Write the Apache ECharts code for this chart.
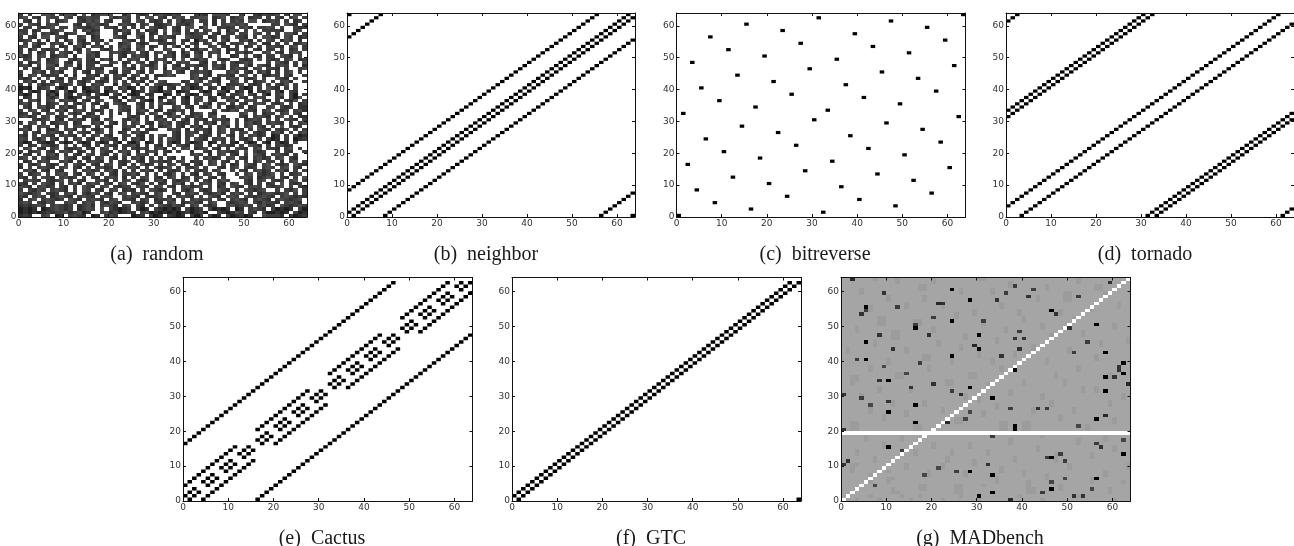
<!DOCTYPE html>
<html><head><meta charset="utf-8">
<style>html,body{margin:0;padding:0;background:#fff}#c{width:1294px;height:546px}</style>
<script src="https://cdn.jsdelivr.net/npm/echarts@6/dist/echarts.min.js"></script>
</head><body><div id="c"></div>
<script>
var captions=["(a)  random","(b)  neighbor","(c)  bitreverse","(d)  tornado","(e)  Cactus","(f)  GTC","(g)  MADbench"];
var tickValues=[0,10,20,30,40,50,60];
// random: rows from y=63 down to y=0; # = white, a-d = dark greys
var randomRows=[
"c#c##ddc #cddb#d# bcddd##b d#cbc#cd cbdc###c cb#dddc# #c##cbdc cd#c#dd#",
"cd#cb#dc c#dc#bcd cc##dbcd c#c#dd#c b#cdc#cc dd#bcd#b cd#bcc#c #cb#cd#c",
"#cb#c#d# bcd##cbd cd#cb##c c#dc#cbc #c#dbcc# cc#b#c#c dc#dd#bc dc#c#bc#",
"c#dcb#cd c###cb#c dcbc##cd cb#cd#bb cd#ccbd# #c#b#cdd cdc#####c c#dcb#c#",
"#cc#cbcd #cc#dccb cd#ccb#c #c#c#dcb c#cb#dd# bd##ccbc #cdb#ccd c#c##cbc",
"cc#bc##c cd##c#cd bc###cbd c#c#bcb# d#cb#c#c #cd#c#bd c#c#d#cc ccb##cd#",
"dc#c#cdb c#bcd##b cd###c#c b#cd#bc# c#dc#cbc dc#cb#cc #cc#dc#c #c#ddb#c",
"c#cb#dd# dcb##cd# bc###dcb ##db#c#c dcb##dcc c#bc#cc# dcb#c#dd bc#dc#bc",
"bcd#c#b# c#bd#cb# ccb#c##d cb#c#cdb c#d#cb#a dc#c#db# #cdb#c#d c#bdc#b#",
"#c#dbc#c dc#b#dbc #c#d##bc d#cbc##c cbc#c#db #cd#cb#c cd#cd#bb #c#c#bcd",
"cd#cb##d #bc#cdb# cdb#c#cd c#dc#bc# c#db#b#c ##cd#cb# c#bc#c#c dcb#cd#c",
"c#bd#cbc c#d#cb#d ##cbc#dc b#cd#c## cd##c#bb dc#dc#bc c#d#cb#c c#c#bc#c",
"c#c#bc#c #dcb#c#d cb##cdcb cd#cb#cd #cb#bd#c b#cdc#b# cdbc##cd #cb#cdc#",
"dbc#cd#b cdc#b##c db##c#cb #cdcb#c# cdb#cb#d c#c#d##b c#d#cb#c c#dcb#c#",
"#cd#c#bc d##cbd#c b#cdb#c# cdc#b#cd c#c#d#cb dc##cbc# #cbc#d#c bc#cd#bc",
"c#bcd#cc d#cb#c#c cb##cd#b c#dc#bc# db#cdc## cb#c#d#c bcdc###c #dcb#c#d",
"cdb#c#dd b#cd#b#c c#dcb##c #c#dcbd# c#cb#cdc bc#cdb#c c#db#dcb #cdc#c#b",
"#c#cb#cc #dc#cb#c dcb##c#d cb#c#cd# b#cdcb#c #c#dcb#c dcb#cd#c cb#c##cd",
"c##cdb#c db##c#cb #cd#cb#c c#db#c## cd#cb#cc dcb###cd c#cb#cdb #c#cd#c#",
"b#cd#cbc c#c#b##c db#c#cdb #cd#c#bb cdc###cd #cb#cdcb #cd#c#bb dc#cb##c",
"cbc#c#d# cb#cd#bc c#db#cc# cb#cc#c# ######cd bc#cb#cd c#cbd#c# #dcb#c##",
"#cdb#c#b dc#c#cbd #cbc#d#c #cdb#c#d c###bc#d c#dcb##c d#c#bcd# c#cdb##c",
"c#c#dbcd #cbd#cb# cdc##b#c d#b#c#dc cbcd#cbb #cd#c#bc cd#cbc#c #cbd#c##",
"aba#bcd# cab#c#ab dc#cb#cd ab#c#dca #cb#cdab c#bc#acd #cab#c#d cb#c#c##",
"b#cab#ca c#dab#ca bc#acd#c #abc#cba dc#abc## cab#dca# bc#a#cbd #ca#cb##",
"cab#c#bd a#cb#cdb #cba#cb# cab#cb## ab#c#cab #dc#ab#c cd#cb#ca #cd#ca#c",
"#bc#c#cb d#cabc#d cb##cb#a #dcb#c#a c#b#ca#d c#bc#cdb #cb#cdc# #cb#cad#",
"c#cdb#cd #cdcb#cb #cd##cb# cd#cba#c #cd#cb#c d#cb##cd b#cdc#cb #c#cbd#c",
"cdb#c#bc d#c#cbd# cb#c#dcb ##cb#c#d cbc#cb#c #db#cd#c #cb#cdc# cbd#c#bc",
"#cb#cdbc #cdbc#c# d#cb##dc c#db#c#c ##cd#cb# cbd#c#bb dc#bc##c d#cbc#bb",
"c#cd#cb# cdb#cdc# cbc#c#dc b#cdc#bb #cbdc#b# ###c#cbd c#dcb#cd #cbc#cdb",
"bc#cb#cd #c#dbc#b c#c#c#b# c#bc#cd# cbd#c#bc d#cb#### #cd#c#bc c#cd#cb#",
"cdbc#cd# bcd#c#bc dc##c### cbc#c#cb #cdc#cbd c#cd#c## #cb#cdcb #cd#c#bb",
"###cbcd# cb#cdcb# cb#cd##c bdb#c#cd c#c#db#c cb#cdcb# c#bcdc#c #c#dcb#c",
"c#cd#c#b cdc#bc## cdb#cb#c #cd#cb#c dc#cbc#c #cdb#cd# c#cdbc#c dcb#c#cd",
"#cb#cdc# b#c#cdbc #c#cb##c dc#b#c#b cd#cb#cd b#c#cdb# c#cd#cb# c#d#cbc#",
"cdb#c#bb d#cdb#c# cbd#c##b c#d#cbc# #cdc#b#c dcb#cd#c cb#c#dcb #cbd#c#c",
"#c#cb#cd cb#c#dcb #cd#c#bc #cdbc### ##cb#cdc #cb#cd#c #cd#cbc# cdb#c#cd",
"cb#c#dcb #cdcb#c# cd#cb##c d#cb#c#d c#cb#cd# cbc#c#db #c#cdbc# ab#c#cab",
"dc#cbd#c b#c#cd#c b#cdcb#c #cdb#c#c #dcb#c#d cb#cdc#c #cbd#c#c ab#c#abc",
"cab#cbab #cab#cab #cab#ca# bac#ab#c #cab#cab c#ab#c#b a#cab#ca #cab#c##",
"c#bc#dcb c#d#c#cb #c#dcb#c cdb#c#cb #c#dcb#c c#b#cdcb #c#dcb#c #cdbc###",
"#cd#cb#c d#cbcd#c b#cd#c#c #cbdc#cd b#c#cd#b cd#cb#c# dcb#cd#c cb#cd#c#",
"c#bcd#cb #cdc#bc# c#dcb#cd c#b#cdc# cb#c##b# #cb#cdcb c#d#cbc# #c#cb##c",
"#cb#c#cd b#c#cb#d c#cb#c#d b#cdc#b# c#####cd c#b#cd#c b#c#dcb# cdcb#c##",
"cd#c#dbc c#dcb#cb #cd#cb#c #cdb#c#c #cb#c##c #cdbc#cd #cb#cdbc #cd#cb##",
"#bc#cdc# #cdb#c#c dcb#c#cb d#cb#cdc bc#cd#bc c#cd#cb# c#c#bd#c c#b#cd#c",
"c#cbd#cb c#c#dcb# cb#cd#cb #c#dbc#c #cd#cb#c b#cd#c#b c#dcb#cd #cbc#dcb",
"b#c#cdcb #cd#cb#c #cdbc#c# cdb#c#cb cd#c#cbd #c##cb#c d#cbc#cd c#cd#cb#",
"#cdb#cb# cb##c#cd bc#cdb#c #c#cdb#c #cbc#d#c bc#cd##c #cb#cdbc #cdb#c#c",
"c#bcd#c# cdc#cb#c d#c#cb#c cdb#c#c# cbd#c#cb #cd#cb## c#cd#cbc d#c#bcd#",
"cb#c#dcb #cdbc#c# cb#cdc#b #c#cd#cb #cd#bc#c d#cb#c## #cdc#bcd c#cb#c#d",
"#cdcb#cb cd#c#cb# #cdb#c#c d#cbc#cd b#cbcd#c #cb#cdc# ##cb#cd# cbc#cd#c",
"cb#c#dcb #c#cdb#c dc#cb#cd #cbd#c#b c#cdb#c# cdc#cb#c d#cb#c#b c#d#cbc#",
"dcb#cdbc #cb#c#dc b#cd#cbc c#dcb#cd #cb#cdbc d#c#bc#d cb#cdc#c bcd#c#cb",
"c#cbdc#c dcb#c#dc #cb#cd#b cb#c#dcb c#c#cbd# cbc#dcb# c#dcbcd# #c#cbd#c",
"dcbcd#cb c#cdb#cb dc#cb#cd #cdcb#cd ##cb#cdc #cbcdb#c dc#c#bcd cbcd#c#c",
"cb#cdc#b cdcb#cdc b#cdc##c dcb#cbcd #c#cdcb# c#dcb#cd c#dcbcdc b#cdcbcb",
"b#cd#cdc bc#dcb#c dcb#cd#c cb#cd#bc cdb#c#cd cdc#cb#c dcb#cdcb #cdcbcd#",
"cdc#cbdc ##cdc#cd c#cbdcb# #cdbc#cb #cd#bcdc b#cd##cb cdc#cbdc cb#cdcb#",
"bcbcdc#c dcbc#bcd b#cdcb#c d#cb#c#d cbdcb#cd #cbc##cd bcdc#cdb c#dcbcdc",
"abab#abc dcbc#bcd c#d#cbab c#cab#cb abab#cab c#cabab# ab#cdcb# cabab#ca",
"abababcb ccdbcdab ##cdbcab cb#cdaba bababcab ca##cbab dc#cb#ca abab#cab",
"bcb##cd# ab#cdcb# ab#cdc## #abc#cab #cbab#ca c#cab#ca bcab##dc ccb#cabc"
];
var bitreverseY=[0,32,16,48,8,40,24,56,4,36,20,52,12,44,28,60,2,34,18,50,10,42,26,58,6,38,22,54,14,46,30,62,1,33,17,49,9,41,25,57,5,37,21,53,13,45,29,61,3,35,19,51,11,43,27,59,7,39,23,55,15,47,31,63];
var neighborRows=[[1,8,56,63],[0,2,9,57],[1,3,10,58],[2,4,11,59],[3,5,12,60],[4,6,13,61],[5,7,14,62],[6,8,15,63],
[0,7,9,16],[1,8,10,17],[2,9,11,18],[3,10,12,19],[4,11,13,20],[5,12,14,21],[6,13,15,22],[7,14,16,23],
[8,15,17,24],[9,16,18,25],[10,17,19,26],[11,18,20,27],[12,19,21,28],[13,20,22,29],[14,21,23,30],[15,22,24,31],
[16,23,25,32],[17,24,26,33],[18,25,27,34],[19,26,28,35],[20,27,29,36],[21,28,30,37],[22,29,31,38],[23,30,32,39],
[24,31,33,40],[25,32,34,41],[26,33,35,42],[27,34,36,43],[28,35,37,44],[29,36,38,45],[30,37,39,46],[31,38,40,47],
[32,39,41,48],[33,40,42,49],[34,41,43,50],[35,42,44,51],[36,43,45,52],[37,44,46,53],[38,45,47,54],[39,46,48,55],
[40,47,49,56],[41,48,50,57],[42,49,51,58],[43,50,52,59],[44,51,53,60],[45,52,54,61],[46,53,55,62],[47,54,56,63],
[0,48,55,57],[1,49,56,58],[2,50,57,59],[3,51,58,60],[4,52,59,61],[5,53,60,62],[6,54,61,63],[0,7,55,62]];
var tornadoRows=[[3,31,33,61],[4,32,34,62],[5,33,35,63],[0,6,34,36],[1,7,35,37],[2,8,36,38],[3,9,37,39],[4,10,38,40],
[5,11,39,41],[6,12,40,42],[7,13,41,43],[8,14,42,44],[9,15,43,45],[10,16,44,46],[11,17,45,47],[12,18,46,48],
[13,19,47,49],[14,20,48,50],[15,21,49,51],[16,22,50,52],[17,23,51,53],[18,24,52,54],[19,25,53,55],[20,26,54,56],
[21,27,55,57],[22,28,56,58],[23,29,57,59],[24,30,58,60],[25,31,59,61],[26,32,60,62],[27,33,61,63],[0,28,34,62],
[1,29,35,63],[0,2,30,36],[1,3,31,37],[2,4,32,38],[3,5,33,39],[4,6,34,40],[5,7,35,41],[6,8,36,42],
[7,9,37,43],[8,10,38,44],[9,11,39,45],[10,12,40,46],[11,13,41,47],[12,14,42,48],[13,15,43,49],[14,16,44,50],
[15,17,45,51],[16,18,46,52],[17,19,47,53],[18,20,48,54],[19,21,49,55],[20,22,50,56],[21,23,51,57],[22,24,52,58],
[23,25,53,59],[24,26,54,60],[25,27,55,61],[26,28,56,62],[27,29,57,63],[0,28,30,58],[1,29,31,59],[2,30,32,60]];
var cactusRows=[[1,4,16],[0,2,5,17],[1,3,6,18],[2,7,19],[0,5,8,20],[1,4,6,9,21],[2,5,7,10,22],[3,6,11,23],
[4,9,12,24],[5,8,10,13,25],[6,9,11,14,26],[7,10,15,27],[8,13,28],[9,12,14,29],[10,13,15,30],[11,14,31],
[0,17,20,32],[1,16,18,21,33],[2,17,19,22,34],[3,18,23,35],[4,16,21,24,36],[5,17,20,22,25,37],[6,18,21,23,26,38],[7,19,22,27,39],
[8,20,25,28,40],[9,21,24,26,29,41],[10,22,25,27,30,42],[11,23,26,31,43],[12,24,29,44],[13,25,28,30,45],[14,26,29,31,46],[15,27,30,47],
[16,33,36,48],[17,32,34,37,49],[18,33,35,38,50],[19,34,39,51],[20,32,37,40,52],[21,33,36,38,41,53],[22,34,37,39,42,54],[23,35,38,43,55],
[24,36,41,44,56],[25,37,40,42,45,57],[26,38,41,43,46,58],[27,39,42,47,59],[28,40,45,60],[29,41,44,46,61],[30,42,45,47,62],[31,43,46,63],
[32,49,52],[33,48,50,53],[34,49,51,54],[35,50,55],[36,48,53,56],[37,49,52,54,57],[38,50,53,55,58],[39,51,54,59],
[40,52,57,60],[41,53,56,58,61],[42,54,57,59,62],[43,55,58,63],[44,56,61],[45,57,60,62],[46,58,61,63],[]];
var gtcRows=[[1,63],[0,2],[1,3],[2,4],[3,5],[4,6],[5,7],[6,8],[7,9],[8,10],[9,11],[10,12],[11,13],[12,14],[13,15],[14,16],
[15,17],[16,18],[17,19],[18,20],[19,21],[20,22],[21,23],[22,24],[23,25],[24,26],[25,27],[26,28],[27,29],[28,30],[29,31],[30,32],
[31,33],[32,34],[33,35],[34,36],[35,37],[36,38],[37,39],[38,40],[39,41],[40,42],[41,43],[42,44],[43,45],[44,46],[45,47],[46,48],
[47,49],[48,50],[49,51],[50,52],[51,53],[52,54],[53,55],[54,56],[55,57],[56,58],[57,59],[58,60],[59,61],[60,62],[61,63],[]];
// MADbench: [x, y, grey]
var madDark=[[2,63,40],[24,60,0],[9,59,50],[38,61,60],[42,60,60],[41,58,50],[36,59,60],[59,62,50],[52,58,60],[34,57,50],[28,57,0],[21,56,40],[22,56,50],[5,55,0],[12,55,60],[5,54,60],[4,53,50],[46,54,0],[47,53,50],[20,52,60],[31,51,60],[24,51,0],[16,50,60],[16,49,0],[56,50,0],[50,49,50],[39,48,60],[8,47,50],[19,47,50],[30,47,0],[38,46,50],[40,46,50],[5,45,0],[54,45,60],[29,44,40],[30,43,0],[11,43,50],[39,43,50],[51,42,60],[58,42,0],[24,41,0],[35,41,50],[3,40,60],[5,40,0],[17,39,60],[62,39,0],[9,38,70],[61,38,50],[61,37,50],[38,37,0],[14,36,70],[62,36,0],[58,35,0],[60,35,50],[8,34,50],[10,34,0],[20,33,50],[63,33,40],[15,32,50],[28,32,0],[24,31,60],[58,31,0],[0,30,50],[26,30,40],[4,29,60],[33,29,0],[10,28,50],[6,27,70],[16,27,0],[37,26,60],[43,26,50],[45,26,60],[10,25,0],[28,25,70],[58,24,40],[27,23,70],[56,23,0],[16,22,0],[23,22,40],[52,21,70],[38,21,0],[38,20,0],[0,20,50],[33,18,60],[62,17,70],[56,16,60],[57,15,50],[10,15,0],[13,14,60],[48,13,60],[62,13,0],[45,12,60],[46,12,0],[49,11,60],[1,11,50],[0,10,50],[32,10,50],[21,9,70],[25,8,60],[28,8,0],[18,7,70],[33,7,0],[49,6,70],[56,6,0],[7,4,70],[46,5,70],[55,3,70],[46,3,0],[33,2,0],[44,2,60],[30,1,0],[51,1,50],[53,1,50],[37,0,40]];
var madWhiteRow=19;
// MADbench: slightly darker cells per row (y=0 first)
var madShade=[[3,8,15,22,30,44,60],[6,13,17,26,39,52],[11,12,25,26,41,42,59],[11,17,18,25,26,41,42,48,59],[17,18,25,26,31,41,48],[6,10,34,41,55,62],[6,10,11,34,45,55],[6,19,27,40,45,58],[2,10,19,27,35,40,58],[2,14,22,35,50,63],
[2,3,14,22,29,50,63],[7,23,29,38,47],[7,12,23,38,47,55],[3,16,24,32,47,55],[3,16,24,32,43,60],[9,20,28,43,60],[9,20,28,37,52],[5,13,37,52,58],[5,13,33,44,58],[],
[2,3,16,17,35,36,40,41,54],[2,3,16,17,35,36,40,41,54],[2,3,25,26,35,36,40,41,60],[9,25,26,48,60],[9,14,31,48],[6,14,22,31,42,51],[6,22,34,42,51],[11,18,34,46,59],[11,18,30,46,59],[4,27,30,44,62],
[4,27,37,44,62],[8,15,37,53,56],[8,15,32,53,56],[2,23,24,32,40,49],[2,3,23,24,40,49],[2,3,12,13,28,29,47,59],[12,13,28,29,47,59],[6,19,35,52,61],[6,19,35,52],[10,24,33,45],
[10,18,19,24,33,45,56],[18,19,30,38,56],[1,14,30,38,50],[1,14,26,42,50],[7,21,26,42,57],[7,21,34,57,63],[11,12,27,34,46,63],[11,12,27,46,53],[3,11,12,20,36,53],[3,20,36,44,60],
[8,9,16,17,31,44,60],[8,9,16,17,31,40,51],[8,9,25,40,51],[25,29,39,48],[6,29,39,48,55],[6,14,22,35,55,61],[14,22,35,61],[10,18,43,49,50],[10,18,43,49,50,58],[4,26,33,49,50,58],
[4,17,18,26,33,45,56,57],[17,18,37,45,56,57],[12,20,37,52],[7,12,20,30,31,52]];

function sparseFromRows(rows){var d=[];rows.forEach(function(r,y){r.forEach(function(x){d.push([x,y,0]);});});return d;}
var greyLevels={'#':255,a:30,b:48,c:62,d:76};
function randomData(){var d=[];randomRows.forEach(function(s,i){var r=s.replace(/ /g,'');for(var x=0;x<64&&x<r.length;x++){d.push([x,63-i,greyLevels[r.charAt(x)]]);}});return d;}
function madData(){var dark={},d=[];madDark.forEach(function(m){dark[m[0]+'_'+m[1]]=m[2];});
 for(var y=0;y<64;y++){for(var x=0;x<64;x++){var v=madShade[y].indexOf(x)>=0?156:165;
  var k=x+'_'+y; if(k in dark)v=dark[k]; if(x===y||y===madWhiteRow)v=255; d.push([x,y,v]);}}return d;}
var panelData=[randomData(),sparseFromRows(neighborRows),bitreverseY.map(function(y,x){return [x,y,0];}),sparseFromRows(tornadoRows),sparseFromRows(cactusRows),sparseFromRows(gtcRows),madData()];
// layout only
var boxes=[[18.5,13,288.5,204],[347,13,288,204],[676.5,13,289,204],[1006,13,288,204],[183,277.5,289.5,223.5],[512,277.5,289,223.5],[841,277.5,289.5,223.5]];
var capPos=[[157,254.5],[486,254.5],[815,254.5],[1145,254.5],[322,538.5],[651,538.5],[980,538.5]];
var densePanels=[0,6];
function cellRenderer(snap){return function(params,api){
  var a=api.coord([api.value(0),api.value(1)]),b=api.coord([api.value(0)+1,api.value(1)+1]);
  var x0=a[0],x1=b[0],y0=b[1],y1=a[1];
  if(snap){x0=Math.round(x0);x1=Math.round(x1);y0=Math.round(y0);y1=Math.round(y1);}
  var g=api.value(2);
  return {type:'rect',shape:{x:x0,y:y0,width:x1-x0,height:y1-y0},style:{fill:'rgb('+g+','+g+','+g+')'},silent:true};
};}
var opt={animation:false,backgroundColor:'#fff',grid:[],xAxis:[],yAxis:[],series:[],title:[]};
function valAxis(g,pos,lab){return {type:'value',gridIndex:g,position:pos,min:0,max:64,z:5,
 axisLine:{show:true,onZero:false,lineStyle:{color:'#111',width:1}},
 axisTick:{show:true,inside:true,length:3,lineStyle:{color:'#111',width:1},customValues:tickValues},
 splitLine:{show:false},
 axisLabel:{show:lab,fontFamily:'DejaVu Sans',fontSize:9,color:'#333',margin:2,hideOverlap:false,customValues:tickValues}};}
boxes.forEach(function(b,g){
 opt.grid.push({left:b[0],top:b[1],width:b[2],height:b[3],containLabel:false});
 var xi=opt.xAxis.length,yi=opt.yAxis.length;
 opt.xAxis.push(valAxis(g,'bottom',true),valAxis(g,'top',false));
 opt.yAxis.push(valAxis(g,'left',true),valAxis(g,'right',false));
 opt.series.push({type:'custom',xAxisIndex:xi,yAxisIndex:yi,data:panelData[g],encode:{x:0,y:1},clip:true,silent:true,progressive:0,
   renderItem:cellRenderer(densePanels.indexOf(g)>=0)});
 opt.title.push({text:captions[g],left:capPos[g][0],top:capPos[g][1],textAlign:'center',textVerticalAlign:'middle',
   padding:0,textStyle:{fontFamily:'Liberation Serif',fontSize:20,fontWeight:'normal',color:'#1a1a1a'}});
});
var chart=echarts.init(document.getElementById('c'),null,{renderer:'canvas'});
chart.setOption(opt);
</script></body></html>
